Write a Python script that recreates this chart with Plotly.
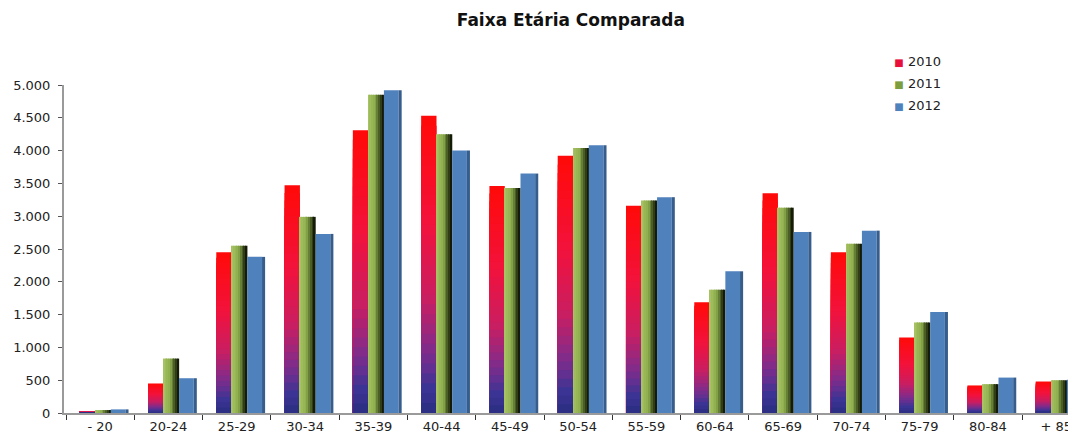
import plotly.graph_objects as go

# age bands and counts per year
faixas = ["- 20", "20-24", "25-29", "30-34", "35-39", "40-44", "45-49", "50-54",
          "55-59", "60-64", "65-69", "70-74", "75-79", "80-84", "+ 85"]
v2010 = [30, 450, 2450, 3470, 4310, 4530, 3460, 3920, 3160, 1690, 3350, 2450, 1150, 420, 480]
v2011 = [45, 830, 2550, 2990, 4850, 4250, 3430, 4040, 3240, 1880, 3130, 2580, 1380, 440, 500]
v2012 = [55, 530, 2380, 2730, 4920, 4000, 3650, 4080, 3290, 2160, 2760, 2780, 1540, 540, 505]

FONT = "DejaVu Sans"


def mix(c1, c2, t):
    a = [int(c1[i:i + 2], 16) for i in (1, 3, 5)]
    b = [int(c2[i:i + 2], 16) for i in (1, 3, 5)]
    return "rgb(%d,%d,%d)" % tuple(round(a[j] + (b[j] - a[j]) * t) for j in range(3))


# top -> bottom colour stops of the 2010 bars
stops = [(0.0, "#ff0a0a"), (0.35, "#f2123c"), (0.6, "#c81e62"),
         (0.78, "#7e2c8c"), (0.9, "#3c3494"), (1.0, "#262c7e")]


def grad(t):
    for (t0, c0), (t1, c1) in zip(stops, stops[1:]):
        if t <= t1:
            return mix(c0, c1, (t - t0) / (t1 - t0))
    return stops[-1][1]


fig = go.Figure()

# 2010: vertical gradient made of overlaid bars of decreasing height
K = 30
for k in range(K):
    frac = (K - k) / K
    fig.add_trace(go.Bar(x=faixas, y=[v * frac for v in v2010],
                         offset=-0.30, width=0.225, marker=dict(color=grad(k / K), line_width=0),
                         showlegend=False, hoverinfo="skip"))

# 2011: green fading to a dark right side
N = 9
for i in range(N):
    t = i / (N - 1)
    col = mix("#a6c263", "#8dad4b", t / 0.45) if t < 0.45 else mix("#8dad4b", "#141c08", (t - 0.45) / 0.55)
    fig.add_trace(go.Bar(x=faixas, y=v2011, offset=-0.075 + i * 0.0255, width=0.027,
                         marker=dict(color=col, line_width=0), showlegend=False, hoverinfo="skip"))

# 2012: blue with a darker side face
fig.add_trace(go.Bar(x=faixas, y=v2012, offset=0.155, width=0.215,
                     marker=dict(color="#4f81bd", line_width=0), showlegend=False, hoverinfo="skip"))
fig.add_trace(go.Bar(x=faixas, y=v2012, offset=0.37, width=0.045,
                     marker=dict(color="#375d8c", line_width=0), showlegend=False, hoverinfo="skip"))

# legend entries (coloured square drawn as text so it sits close to the label)
for name, col in [("2010", "#e8103a"), ("2011", "#7e9e3e"), ("2012", "#4f81bd")]:
    fig.add_trace(go.Scatter(x=[faixas[0]], y=[None], mode="markers",
                             name='<span style="color:%s;font-size:10px">■</span> %s' % (col, name),
                             legendgroup=name,
                             marker=dict(symbol="square", size=1, color="rgba(0,0,0,0)",
                                         line=dict(width=0))))

fig.update_layout(
    width=1068, height=428,
    margin=dict(l=56, r=0, t=77, b=23),
    paper_bgcolor="white", plot_bgcolor="white",
    barmode="overlay",
    separators=",.",
    font=dict(family=FONT, size=13, color="#222"),
    title=dict(text="<b>Faixa Etária Comparada</b>", x=0.527, xanchor="center",
               y=0.972, yanchor="middle", xref="container", yref="container",
               font=dict(family=FONT, size=17, color="#111")),
    legend=dict(x=0.781, y=1.118, xanchor="left", yanchor="top",
                font=dict(size=13, color="#222"), itemwidth=30, tracegroupgap=2,
                bgcolor="rgba(0,0,0,0)"),
    showlegend=True,
)
fig.update_xaxes(type="category", categoryorder="array", categoryarray=faixas,
                 range=[-0.53, 14.29], showline=True, linecolor="#9a9a9a", linewidth=2,
                 ticks="outside", tickson="boundaries", ticklen=5, tickcolor="#333",
                 showgrid=False, automargin=False, tickfont=dict(size=13, color="#222"))
fig.update_yaxes(range=[0, 5000], dtick=500, tickformat=",d", showline=True,
                 linecolor="#9a9a9a", linewidth=2, ticks="outside", ticklen=4,
                 tickcolor="#555", showgrid=False, zeroline=False, automargin=False,
                 ticklabelstandoff=5, tickfont=dict(size=13, color="#222"))

fig.write_html("out.html")
